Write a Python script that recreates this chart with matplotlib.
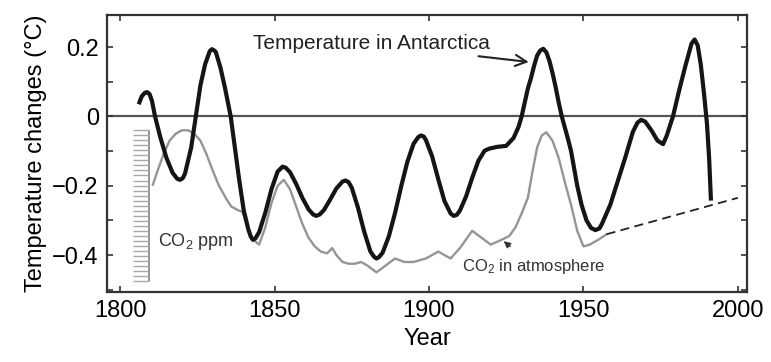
import numpy as np
import matplotlib
matplotlib.use('Agg')
import matplotlib.pyplot as plt
from matplotlib.ticker import MultipleLocator, FuncFormatter

plt.rcParams['font.family'] = ['Liberation Sans', 'DejaVu Sans']
plt.rcParams['mathtext.fontset'] = 'custom'
plt.rcParams['mathtext.rm'] = 'Liberation Sans'
plt.rcParams['mathtext.it'] = 'Liberation Sans:italic'

# Temperature in Antarctica (black, smoothed)
temp_years = [1806, 1807, 1808, 1808.7, 1809.5, 1810.3, 1811.3, 1813, 1815, 1817,
              1818.5, 1819.4, 1820.3, 1821, 1823, 1824.5, 1826, 1827.5, 1829, 1829.7,
              1830.5, 1831, 1832.5, 1834, 1835.8, 1837, 1838.5, 1840, 1841.5, 1842.3,
              1843, 1843.8, 1845, 1847, 1849, 1851, 1852.6, 1853.6, 1855, 1857,
              1859, 1861, 1862.5, 1863.5, 1864.6, 1866, 1868, 1870, 1872, 1873,
              1874, 1875, 1877, 1879, 1881, 1882.2, 1883, 1883.8, 1885, 1887,
              1889, 1891, 1893, 1895, 1896.5, 1897.4, 1898.3, 1899, 1901, 1903,
              1905, 1907, 1908, 1909, 1910, 1912, 1914, 1916, 1918, 1919.5,
              1922, 1925, 1927.4, 1929, 1930, 1931, 1932, 1933, 1934, 1935,
              1936, 1937, 1938, 1939, 1940, 1941, 1942, 1943, 1945, 1946,
              1948, 1949.4, 1951, 1952.5, 1953.9, 1955.2, 1956, 1958.7, 1961, 1963.5,
              1966, 1967.5, 1968.7, 1970, 1972, 1974, 1975.8, 1977, 1979, 1981,
              1983, 1985, 1986, 1987, 1988, 1989, 1990, 1990.7, 1991.3]
temp_vals = [0.035, 0.058, 0.068, 0.07, 0.065, 0.045, 0.0, -0.06, -0.12, -0.163,
             -0.18, -0.183, -0.178, -0.165, -0.09, 0.0, 0.09, 0.15, 0.188, 0.194,
             0.19, 0.185, 0.14, 0.08, 0.0, -0.08, -0.18, -0.27, -0.326, -0.347,
             -0.356, -0.352, -0.334, -0.278, -0.21, -0.159, -0.145, -0.148, -0.161, -0.195,
             -0.235, -0.268, -0.283, -0.287, -0.283, -0.27, -0.24, -0.208, -0.188, -0.185,
             -0.19, -0.206, -0.263, -0.332, -0.389, -0.405, -0.41, -0.406, -0.393, -0.346,
             -0.279, -0.202, -0.131, -0.079, -0.06, -0.055, -0.058, -0.068, -0.115, -0.181,
             -0.244, -0.28, -0.287, -0.284, -0.272, -0.231, -0.177, -0.128, -0.099, -0.093,
             -0.088, -0.085, -0.062, -0.03, 0.0, 0.04, 0.08, 0.11, 0.145, 0.175,
             0.19, 0.195, 0.185, 0.16, 0.125, 0.085, 0.04, 0.0, -0.065, -0.1,
             -0.2, -0.255, -0.3, -0.322, -0.328, -0.323, -0.31, -0.255, -0.19, -0.12,
             -0.045, -0.018, -0.01, -0.015, -0.04, -0.07, -0.08, -0.055, 0.0, 0.075,
             0.145, 0.21, 0.222, 0.205, 0.15, 0.07, -0.02, -0.12, -0.243]

# CO2 in atmosphere (grey)
co2_years = [1810.6, 1812, 1814, 1816, 1818, 1820, 1822, 1824, 1826, 1828,
             1830, 1832, 1834.5, 1836, 1838, 1839.5, 1841, 1843, 1845, 1847,
             1849, 1851, 1853, 1855, 1857, 1859, 1861, 1863, 1865, 1867,
             1868.7, 1870, 1872, 1874, 1876, 1878, 1880, 1883, 1886, 1889,
             1892, 1895, 1899, 1903, 1907, 1910, 1914, 1917, 1920, 1923.5,
             1926, 1928, 1930, 1932, 1933.5, 1935, 1936.5, 1938, 1940, 1942,
             1944, 1946, 1948, 1950, 1952, 1955, 1957.5]
co2_vals = [-0.197, -0.16, -0.11, -0.07, -0.05, -0.04, -0.04, -0.05, -0.07, -0.11,
            -0.157, -0.2, -0.24, -0.26, -0.27, -0.275, -0.31, -0.355, -0.37, -0.32,
            -0.25, -0.2, -0.183, -0.21, -0.26, -0.31, -0.35, -0.375, -0.39, -0.395,
            -0.38, -0.4, -0.42, -0.425, -0.425, -0.42, -0.43, -0.45, -0.43, -0.41,
            -0.42, -0.42, -0.41, -0.39, -0.41, -0.38, -0.33, -0.35, -0.37, -0.356,
            -0.345, -0.32, -0.28, -0.235, -0.16, -0.09, -0.055, -0.046, -0.07, -0.12,
            -0.19, -0.255, -0.33, -0.375, -0.37, -0.355, -0.34]

# dashed projection
proj_years = [1957.5, 2000]
proj_vals = [-0.34, -0.235]

# little "CO2 ppm" scale drawn on the left
scale_x = 1809.4
scale_tick_x0 = 1804.2
scale_top, scale_bottom, scale_n = -0.04, -0.475, 31

fig = plt.figure(figsize=(7.71, 3.62), dpi=100)
ax = fig.add_axes([0.139, 0.193, 0.830, 0.766])

ax.axhline(0, color='#555555', lw=1.6, zorder=1)

scale_ys = np.linspace(scale_top, scale_bottom, scale_n)
ax.vlines(scale_x, scale_bottom, scale_top, color='#8a8a8a', lw=1.3)
ax.hlines(scale_ys, scale_tick_x0, scale_x, color='#a8a8a8', lw=1.0)

ax.plot(co2_years, co2_vals, color='#959595', lw=1.7, zorder=2)
ax.plot(proj_years, proj_vals, color='#222222', lw=1.3, ls=(0, (5, 3)), zorder=2)
ax.plot(temp_years, temp_vals, color='#151515', lw=3.0, zorder=3,
        solid_capstyle='butt', solid_joinstyle='round')

ax.annotate('Temperature in Antarctica', xy=(1932.3, 0.157), xytext=(1842.9, 0.209),
            fontsize=15, color='#222222', va='center', ha='left',
            arrowprops=dict(arrowstyle='->', color='#222222', lw=1.5,
                            shrinkA=0, shrinkB=0, mutation_scale=20))
ax.annotate(r'CO$_\mathrm{2}$ in atmosphere', xy=(1924.2, -0.36), xytext=(1910.6, -0.432),
            fontsize=12, color='#333333', va='center', ha='left',
            arrowprops=dict(arrowstyle='-|>', color='#333333', lw=0.9,
                            shrinkA=8, shrinkB=0, mutation_scale=10))
ax.text(1812.3, -0.36, r'CO$_\mathrm{2}$ ppm', fontsize=13, color='#333333',
        va='center', ha='left')

ax.set_xlim(1795.8, 2003)
ax.set_ylim(-0.507, 0.293)
ax.xaxis.set_major_locator(MultipleLocator(50))
ax.yaxis.set_major_locator(MultipleLocator(0.2))
ax.yaxis.set_minor_locator(MultipleLocator(0.1))
ax.yaxis.set_major_formatter(FuncFormatter(
    lambda v, p: '0' if abs(v) < 1e-9 else f'{v:.1f}'.replace('-', '\u2212')))

ax.tick_params(which='both', direction='in', top=True, right=True,
               length=4, width=1.2, color='#333333', labelsize=17, pad=6)
for s in ax.spines.values():
    s.set_linewidth(1.6)
    s.set_color('#333333')

ax.set_xlabel('Year', fontsize=17, labelpad=4)
ax.set_ylabel('Temperature changes (\u00b0C)', fontsize=17, labelpad=4)

fig.savefig('out.png', dpi=100)
plt.close(fig)
